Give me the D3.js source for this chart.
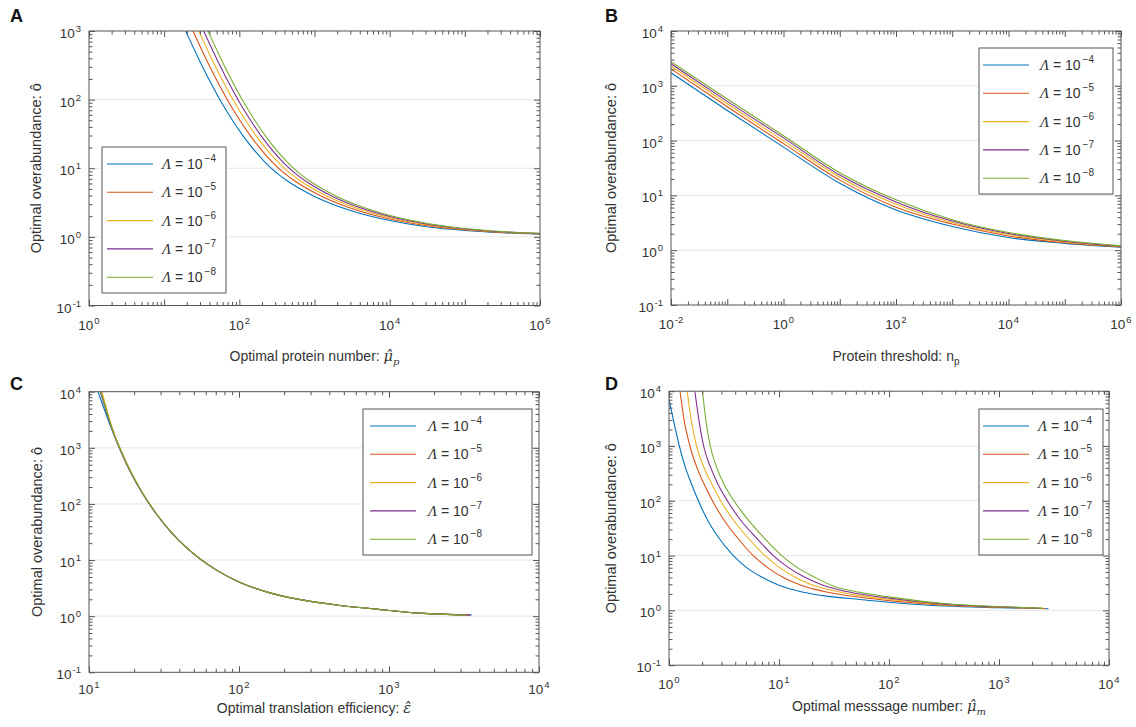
<!DOCTYPE html>
<html>
<head>
<meta charset="utf-8">
<script src="https://cdn.jsdelivr.net/npm/d3@7"></script>
<style>
  body { margin: 0; background: #fff; }
  svg text { font-family: "Liberation Sans", Arial, Helvetica, sans-serif; fill: #333; }
</style>
</head>
<body>
<div id="chart"></div>
<script>
// legend exponents and MATLAB default line colours
const lambdaExp = ["4", "5", "6", "7", "8"];
const colors = ["#0072BD", "#D95319", "#EDB120", "#7E2F8E", "#77AC30"];

// A: optimal protein number vs optimal overabundance, one array per Lambda
const protA = [
  [[19.3,1000],[28.2,412],[39.8,193],[56.2,96.6],[79.4,51.9],[112.2,29.6],[158.5,18.2],[223.9,12.0],[316.2,8.49],[446.7,6.40],[631,5.06],[1000,3.89],[1778,2.97],[3162,2.385],[1e4,1.728],[31620,1.404],[1e5,1.237],[316200,1.148],[1e6,1.096]],
  [[24.2,1000],[35.3,412],[49.9,193],[70.4,96.6],[99.5,51.9],[140.6,29.6],[198.6,18.2],[280.5,12.0],[396.2,8.49],[559.7,6.40],[790.6,5.06],[1253,3.89],[2228,2.97],[3962,2.385],[12530,1.728],[39620,1.404],[125300,1.237],[396200,1.148],[1e6,1.107]],
  [[28.8,1000],[42.1,412],[59.4,193],[83.9,96.6],[118.5,51.9],[167.5,29.6],[236.6,18.2],[334.3,12.0],[472.1,8.49],[666.9,6.40],[942.1,5.06],[1493,3.89],[2655,2.97],[4721,2.385],[14930,1.728],[47210,1.404],[149300,1.237],[472100,1.148],[1e6,1.114]],
  [[33.5,1000],[49.0,412],[69.2,193],[97.7,96.6],[138.0,51.9],[195.0,29.6],[275.5,18.2],[389.1,12.0],[549.6,8.49],[776.4,6.40],[1097,5.06],[1738,3.89],[3090,2.97],[5496,2.385],[17380,1.728],[54960,1.404],[173800,1.237],[549600,1.148],[1e6,1.12]],
  [[38.2,1000],[55.8,412],[78.8,193],[111.3,96.6],[157.2,51.9],[222.2,29.6],[313.8,18.2],[443.3,12.0],[626.1,8.49],[884.5,6.40],[1249,5.06],[1980,3.89],[3520,2.97],[6261,2.385],[19800,1.728],[62610,1.404],[198000,1.237],[626100,1.148],[1e6,1.127]]
];

// B: protein threshold n_p
const threshB = [
  [[0.01,1730],[0.1,355],[1,76],[10,16.6],[100,5.4],[1000,2.7],[1e4,1.7],[1e5,1.33],[1e6,1.13]],
  [[0.01,2030],[0.1,415],[1,88],[10,19],[100,6.1],[1000,3.0],[1e4,1.82],[1e5,1.37],[1e6,1.15]],
  [[0.01,2300],[0.1,470],[1,100],[10,21.5],[100,6.9],[1000,3.2],[1e4,1.93],[1e5,1.42],[1e6,1.17]],
  [[0.01,2520],[0.1,520],[1,112],[10,23.5],[100,7.6],[1000,3.4],[1e4,2.02],[1e5,1.46],[1e6,1.18]],
  [[0.01,2750],[0.1,575],[1,123],[10,26],[100,8.3],[1000,3.6],[1e4,2.1],[1e5,1.5],[1e6,1.2]]
];

// C: optimal translation efficiency (curves almost on top of each other)
const effC = [
  [[11.5,10000],[14.13,2188],[17.78,525],[22.39,166],[28.18,66.1],[35.48,30.9],[44.67,16.6],[56.23,10],[70.79,6.61],[100,4.07],[158.5,2.63],[251.2,1.995],[446.7,1.585],[794.3,1.349],[1585,1.135],[3560,1.047]],
  [[12.1,10000],[14.3,2188],[17.85,525],[22.4,166],[28.2,66.1],[35.5,30.9],[44.7,16.6],[56.3,10],[70.8,6.61],[100,4.07],[158.5,2.63],[251.2,1.995],[446.7,1.585],[794.3,1.349],[1585,1.135],[3450,1.048]],
  [[12.2,10000],[14.35,2188],[17.9,525],[22.45,166],[28.2,66.1],[35.5,30.9],[44.7,16.6],[56.2,10],[70.8,6.61],[100,4.07],[158.5,2.63],[251.2,1.995],[446.7,1.585],[794.3,1.349],[1585,1.135],[3400,1.048]],
  [[11.9,10000],[14.2,2188],[17.7,525],[22.3,166],[28.1,66.1],[35.4,30.9],[44.6,16.6],[56.2,10],[70.8,6.61],[100,4.07],[158.5,2.63],[251.2,1.995],[446.7,1.585],[794.3,1.349],[1585,1.135],[3500,1.047]],
  [[12.0,10000],[14.25,2188],[17.8,525],[22.4,166],[28.2,66.1],[35.6,30.9],[44.7,16.6],[56.3,10],[70.9,6.61],[100,4.07],[158.5,2.63],[251.2,1.995],[446.7,1.585],[794.3,1.349],[1585,1.135],[3300,1.049]]
];

// D: optimal message number
const msgD = [
  [[1,7080],[1.122,2399],[1.242,1000],[1.413,398],[1.585,214],[1.849,100],[2.239,44.7],[2.818,21.4],[3.846,10],[5.012,6.17],[7.079,3.98],[10,2.88],[15.85,2.19],[28.18,1.80],[54.45,1.585],[125.9,1.349],[316.2,1.202],[1000,1.122],[2818,1.072]],
  [[1.259,10000],[1.365,3162],[1.549,1000],[1.799,398],[2.089,200],[2.483,100],[3.162,44.7],[4.169,21.4],[5.834,10],[7.762,6.17],[10.96,3.98],[15.85,2.88],[25.12,2.24],[54.45,1.74],[125.9,1.445],[316.2,1.245],[1000,1.143],[2630,1.084]],
  [[1.462,10000],[1.585,3162],[1.778,1000],[2.089,398],[2.455,200],[2.951,100],[3.846,44.7],[5.188,21.4],[7.464,10],[10,6.17],[14.13,3.98],[20.42,2.88],[31.62,2.29],[54.45,1.86],[125.9,1.514],[316.2,1.274],[1000,1.148],[2512,1.089]],
  [[1.718,10000],[1.862,3162],[2.065,1000],[2.399,398],[2.786,200],[3.388,100],[4.467,44.7],[6.166,21.4],[8.872,10],[12.02,6.17],[17.38,3.98],[25.12,2.88],[38.02,2.29],[54.45,1.995],[125.9,1.585],[316.2,1.303],[1000,1.161],[2399,1.096]],
  [[2.018,10000],[2.153,3162],[2.371,1000],[2.723,398],[3.162,200],[3.890,100],[5.248,44.7],[7.244,21.4],[10.57,10],[14.45,6.17],[21.38,3.98],[31.62,2.754],[54.45,2.138],[125.9,1.66],[316.2,1.334],[1000,1.175],[2512,1.096]]
];

// exponents that get a tick label
const xLabA = [0, 2, 4, 6], yLabA = [-1, 0, 1, 2, 3];
const xLabB = [-2, 0, 2, 4, 6], yLabB = [-1, 0, 1, 2, 3, 4];
const xLabC = [1, 2, 3, 4], yLabC = [-1, 0, 1, 2, 3, 4];
const xLabD = [0, 1, 2, 3, 4], yLabD = [-1, 0, 1, 2, 3, 4];

const svg = d3.select("#chart").append("svg")
  .attr("width", 1136)
  .attr("height", 727);

const yTitle = "Optimal overabundance: ô";

const panels = [
  { id: "a", letter: "A", lx: 10, ly: 22, left: 89, top: 31, w: 451, h: 274.5,
    xd: [1, 1e6], yd: [0.1, 1e3], data: protA, xl: xLabA, yl: yLabA, xly: 24,
    xt: ["Optimal protein number: ", "μ̂", "p", true], xty: 361, ytx: 41,
    leg: { x: 102, y: 147, w: 124, h: 146, l0: 107, l1: 153, tx: 162 } },
  { id: "b", letter: "B", lx: 605, ly: 22, left: 671, top: 31, w: 450, h: 274,
    xd: [0.01, 1e6], yd: [0.1, 1e4], data: threshB, xl: xLabB, yl: yLabB, xly: 24,
    xt: ["Protein threshold: n", "", "p", false], xty: 361, ytx: 616,
    leg: { x: 979, y: 48, w: 134, h: 146, l0: 983, l1: 1029, tx: 1040 } },
  { id: "c", letter: "C", lx: 10, ly: 390, left: 89, top: 391.7, w: 450, h: 280.6,
    xd: [10, 1e4], yd: [0.1, 1e4], data: effC, xl: xLabC, yl: yLabC, xly: 22,
    xt: ["Optimal translation efficiency: ", "ε̂", "", true], xty: 713, ytx: 42,
    leg: { x: 363, y: 409, w: 169, h: 146, l0: 370, l1: 416, tx: 428 } },
  { id: "d", letter: "D", lx: 605, ly: 390, left: 669, top: 391.2, w: 440, h: 274,
    xd: [1, 1e4], yd: [0.1, 1e4], data: msgD, xl: xLabD, yl: yLabD, xly: 24,
    xt: ["Optimal messsage number: ", "μ̂", "m", true], xty: 711, ytx: 616,
    leg: { x: 979, y: 409, w: 124, h: 146, l0: 983, l1: 1029, tx: 1038 } }
];

function logTicks(domain) {
  const lo = Math.round(Math.log10(domain[0])), hi = Math.round(Math.log10(domain[1]));
  const major = [], minor = [];
  for (let e = lo; e <= hi; e++) {
    major.push(Math.pow(10, e));
    if (e < hi) for (let k = 2; k <= 9; k++) minor.push(k * Math.pow(10, e));
  }
  return { major, minor };
}

function supLabel(sel, e, anchor) {
  sel.attr("text-anchor", anchor).attr("font-size", 13.5);
  sel.append("tspan").text("10");
  sel.append("tspan").attr("font-size", 9.5).attr("dy", -6).attr("dx", 1).text(e);
}

panels.forEach(p => {
  const x = d3.scaleLog().domain(p.xd).range([0, p.w]);
  const y = d3.scaleLog().domain(p.yd).range([p.h, 0]);
  const g = svg.append("g").attr("transform", "translate(" + p.left + "," + p.top + ")");

  const xt = logTicks(p.xd), yt = logTicks(p.yd);

  // horizontal grid at the decades
  g.selectAll(".grid")
    .data(yt.major.filter(v => v > p.yd[0] && v < p.yd[1]))
    .join("line")
    .attr("x1", 0).attr("x2", p.w)
    .attr("y1", d => y(d)).attr("y2", d => y(d))
    .attr("stroke", "#e6e6e6").attr("stroke-width", 1);

  // curves
  g.append("clipPath").attr("id", "clip-" + p.id)
    .append("rect").attr("width", p.w).attr("height", p.h);
  const line = d3.line()
    .x(d => x(d[0]))
    .y(d => y(d[1]))
    .curve(d3.curveMonotoneX);
  g.append("g").attr("clip-path", "url(#clip-" + p.id + ")")
    .selectAll("path")
    .data(p.data)
    .join("path")
    .attr("d", line)
    .attr("fill", "none")
    .attr("stroke", (d, i) => colors[i])
    .attr("stroke-width", 1.1);

  // ticks on all four sides, pointing inwards
  const axes = [
    [d3.axisBottom, "translate(0," + p.h + ")", x, xt],
    [d3.axisTop, "translate(0,0)", x, xt],
    [d3.axisLeft, "translate(0,0)", y, yt],
    [d3.axisRight, "translate(" + p.w + ",0)", y, yt]
  ];
  axes.forEach(a => {
    const [fn, tr, sc, tk] = a;
    g.append("g").attr("transform", tr)
      .call(fn(sc).tickValues(tk.major).tickSize(-6).tickSizeOuter(0).tickFormat(""))
      .call(s => s.select(".domain").remove())
      .selectAll("line").attr("stroke", "#555");
    g.append("g").attr("transform", tr)
      .call(fn(sc).tickValues(tk.minor).tickSize(-3.5).tickSizeOuter(0).tickFormat(""))
      .call(s => s.select(".domain").remove())
      .selectAll("line").attr("stroke", "#555");
  });

  g.append("rect")
    .attr("width", p.w).attr("height", p.h)
    .attr("fill", "none").attr("stroke", "#555").attr("stroke-width", 1);

  // tick labels
  p.xl.forEach(e => {
    g.append("text").attr("x", x(Math.pow(10, e))).attr("y", p.h + p.xly)
      .call(s => supLabel(s, e, "middle"));
  });
  p.yl.forEach(e => {
    g.append("text").attr("x", -8).attr("y", y(Math.pow(10, e)) + 7)
      .call(s => supLabel(s, e, "end"));
  });

  // axis titles
  const xtxt = svg.append("text")
    .attr("x", p.left + p.w / 2).attr("y", p.xty)
    .attr("text-anchor", "middle").attr("font-size", 14);
  xtxt.append("tspan").text(p.xt[0]);
  if (p.xt[1]) xtxt.append("tspan")
    .attr("font-family", "'DejaVu Serif', 'Liberation Serif', serif")
    .attr("font-style", "italic").attr("font-size", 14.5).text(p.xt[1]);
  if (p.xt[2]) xtxt.append("tspan")
    .attr("font-family", p.xt[3] ? "'DejaVu Serif', 'Liberation Serif', serif" : null)
    .attr("font-style", p.xt[3] ? "italic" : null)
    .attr("font-size", 10).attr("dy", 4).text(p.xt[2]);

  svg.append("text")
    .attr("transform", "translate(" + p.ytx + "," + (p.top + p.h / 2) + ") rotate(-90)")
    .attr("text-anchor", "middle").attr("font-size", 14.5)
    .text(yTitle);

  // panel letter
  svg.append("text").attr("x", p.lx).attr("y", p.ly)
    .attr("font-size", 18).attr("font-weight", "bold")
    .style("fill", "#111")
    .text(p.letter);

  // legend
  const L = p.leg;
  const lg = svg.append("g");
  lg.append("rect").attr("x", L.x).attr("y", L.y).attr("width", L.w).attr("height", L.h)
    .attr("fill", "#fff").attr("stroke", "#555").attr("stroke-width", 1);
  lambdaExp.forEach((ex, i) => {
    const ry = L.y + 17 + i * 28.3;
    lg.append("line").attr("x1", L.l0).attr("x2", L.l1).attr("y1", ry).attr("y2", ry)
      .attr("stroke", colors[i]).attr("stroke-width", 1.1);
    const t = lg.append("text").attr("x", L.tx).attr("y", ry + 5).attr("font-size", 14);
    t.append("tspan").attr("font-family", "'Liberation Serif', serif")
      .attr("font-style", "italic").attr("font-size", 15).text("Λ");
    t.append("tspan").text(" = 10");
    t.append("tspan").attr("font-size", 10).attr("dy", -7).attr("dx", 2).text("−" + ex);
  });
});
</script>
</body>
</html>
